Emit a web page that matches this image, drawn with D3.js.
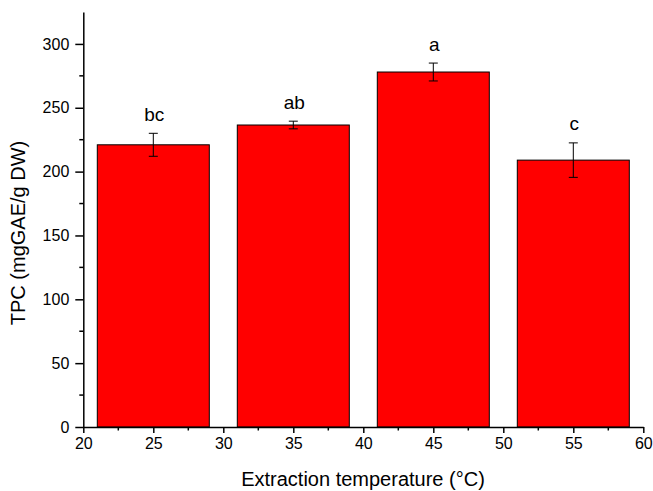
<!DOCTYPE html>
<html>
<head>
<meta charset="utf-8">
<script src="https://cdn.jsdelivr.net/npm/d3@7"></script>
<style>
  body { margin: 0; background: #fff; }
  svg { font-family: Arial, "Liberation Sans", sans-serif; }
</style>
</head>
<body>
<div id="plot"></div>
<script>
// data
const temperatures = [25, 35, 45, 55];
const tpcMeans = [221, 236.5, 278, 209];
const tpcErrors = [9, 3, 7, 13.5];
const groupLetters = ["bc", "ab", "a", "c"];
const xTicks = [20, 25, 30, 35, 40, 45, 50, 55, 60];
const yTicks = [0, 50, 100, 150, 200, 250, 300];

const width = 653, height = 491;

const svg = d3.select("#plot").append("svg")
    .attr("width", width)
    .attr("height", height);

const x = d3.scaleLinear().domain([20, 60]).range([83.3, 643.3]);
const y = d3.scaleLinear().domain([0, 325]).range([427, 12]);

const barW = x(29) - x(21);

// bars
svg.selectAll("rect.bar")
    .data(temperatures)
    .enter().append("rect")
    .attr("class", "bar")
    .attr("x", d => x(d) - barW / 2)
    .attr("y", (d, i) => y(tpcMeans[i]))
    .attr("width", barW)
    .attr("height", (d, i) => y(0) - y(tpcMeans[i]))
    .attr("fill", "#ff0000")
    .attr("stroke", "#000")
    .attr("stroke-width", 1);

// error bars
const capW = 4.5;
const err = svg.selectAll("g.err")
    .data(temperatures)
    .enter().append("g")
    .attr("class", "err")
    .attr("stroke", "#000")
    .attr("stroke-width", 1);

err.append("line")
    .attr("x1", d => x(d)).attr("x2", d => x(d))
    .attr("y1", (d, i) => y(tpcMeans[i] + tpcErrors[i]))
    .attr("y2", (d, i) => y(tpcMeans[i] - tpcErrors[i]));
err.append("line")
    .attr("x1", d => x(d) - capW).attr("x2", d => x(d) + capW)
    .attr("y1", (d, i) => y(tpcMeans[i] + tpcErrors[i]))
    .attr("y2", (d, i) => y(tpcMeans[i] + tpcErrors[i]));
err.append("line")
    .attr("x1", d => x(d) - capW).attr("x2", d => x(d) + capW)
    .attr("y1", (d, i) => y(tpcMeans[i] - tpcErrors[i]))
    .attr("y2", (d, i) => y(tpcMeans[i] - tpcErrors[i]));

// significance letters
svg.selectAll("text.letter")
    .data(temperatures)
    .enter().append("text")
    .attr("class", "letter")
    .attr("x", d => x(d) + 1)
    .attr("y", (d, i) => y(tpcMeans[i] + tpcErrors[i]) - 12.5)
    .attr("text-anchor", "middle")
    .attr("font-size", "19px")
    .text((d, i) => groupLetters[i]);

// x axis
const xAxis = svg.append("g")
    .attr("transform", `translate(0,${y(0)})`)
    .call(d3.axisBottom(x).tickValues(xTicks).tickSize(6).tickPadding(5).tickSizeOuter(0));
xAxis.append("g")
    .selectAll("line")
    .data(d3.range(22.5, 60, 5))
    .enter().append("line")
    .attr("x1", d => x(d)).attr("x2", d => x(d))
    .attr("y1", 0).attr("y2", 3.5)
    .attr("stroke", "#000")
    .attr("stroke-width", 1.5);

// y axis
const yAxis = svg.append("g")
    .attr("transform", `translate(${x(20)},0)`)
    .call(d3.axisLeft(y).tickValues(yTicks).tickSize(8).tickPadding(6).tickSizeOuter(0));
yAxis.append("g")
    .selectAll("line")
    .data(d3.range(25, 325, 50))
    .enter().append("line")
    .attr("x1", 0).attr("x2", -4)
    .attr("y1", d => y(d)).attr("y2", d => y(d))
    .attr("stroke", "#000")
    .attr("stroke-width", 1.5);

svg.selectAll(".domain").attr("stroke", "#000").attr("stroke-width", 1.5);
svg.selectAll(".tick line").attr("stroke", "#000").attr("stroke-width", 1.5);
svg.selectAll(".tick text")
    .attr("font-size", "16px")
    .attr("font-family", "Arial, 'Liberation Sans', sans-serif")
    .attr("fill", "#000");

// axis titles
svg.append("text")
    .attr("x", 363)
    .attr("y", 486)
    .attr("text-anchor", "middle")
    .attr("font-size", "20px")
    .text("Extraction temperature (°C)");

svg.append("text")
    .attr("transform", "translate(25,233) rotate(-90)")
    .attr("text-anchor", "middle")
    .attr("font-size", "20px")
    .text("TPC (mgGAE/g DW)");
</script>
</body>
</html>
